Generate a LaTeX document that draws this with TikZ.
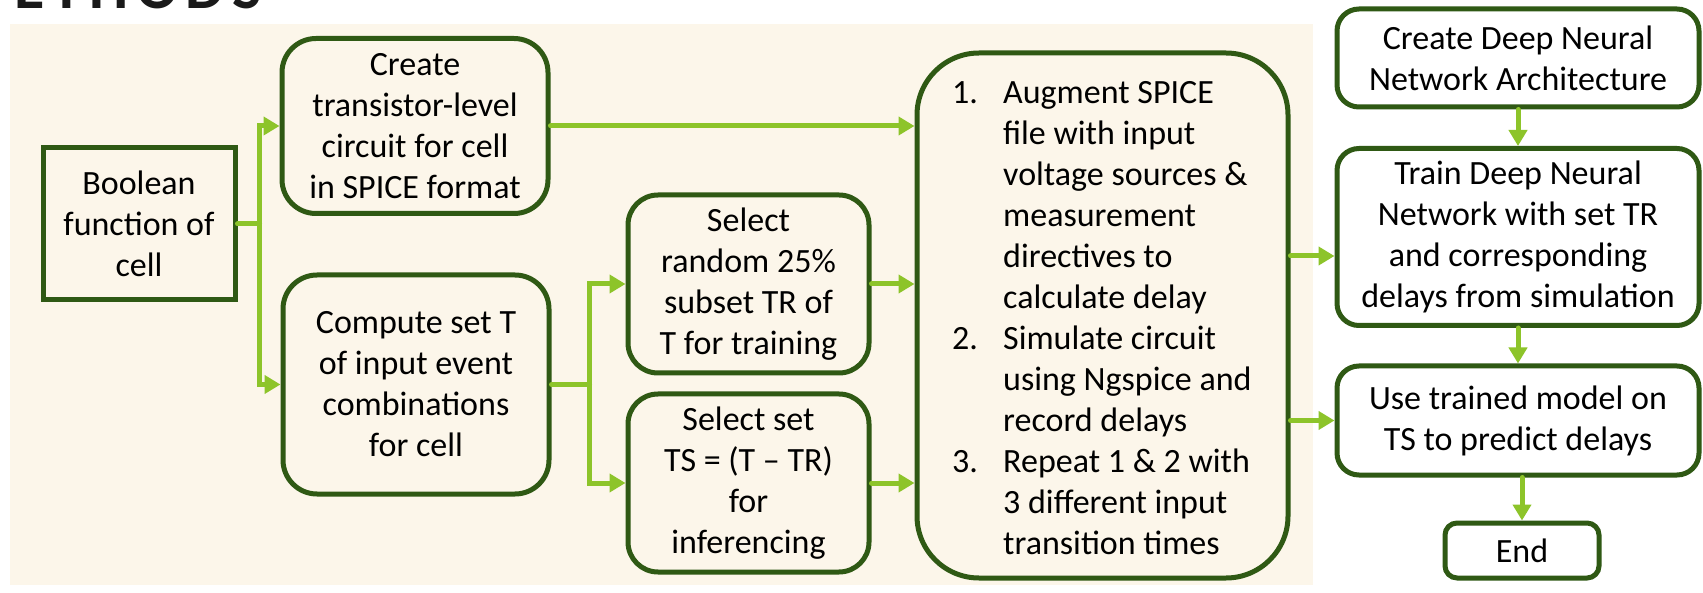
\documentclass[tikz,border=0pt]{standalone}
\usepackage{fontspec}
\setmainfont{Carlito}
\usetikzlibrary{arrows.meta}
\definecolor{panel}{HTML}{FCF6EA}
\definecolor{boxline}{HTML}{2F5914}
\definecolor{flow}{HTML}{8DC42A}
\definecolor{heading}{HTML}{1A1A1A}
\begin{document}
\begin{tikzpicture}[x=1pt,y=-1pt,
  box/.style={draw=boxline, line width=5pt, align=center, inner sep=0pt,
    font=\fontsize{34}{41}\selectfont, text=black},
  link/.style={draw=flow, line width=5pt, line cap=round},
  arr/.style={link, -{Triangle[length=16pt,width=18pt]}},
]
% page and cream panel
\fill[white] (0,0) rectangle (1703,593);
\useasboundingbox (0,0) rectangle (1703,593);
\fill[panel] (10,24) rectangle (1313,585);

% heading, cut by the top edge of the page
\node[anchor=base east, inner sep=0pt, text=heading,
  font=\fontsize{62}{62}\selectfont\bfseries\addfontfeature{LetterSpace=12}]
  (title) at (262,9) {ETHODS};

% left part of the flow
\node[box, minimum width=192pt, minimum height=152pt] (bool) at (139,224)
  {Boolean\\function of\\cell};
\node[box, rounded corners=34pt, minimum width=266pt, minimum height=175pt] (create) at (415,126)
  {Create\\transistor-level\\circuit for cell\\in SPICE format};
\node[box, rounded corners=34pt, minimum width=266pt, minimum height=219pt] (compute) at (416,384.5)
  {Compute set T\\of input event\\combinations\\for cell};
\node[box, rounded corners=30pt, minimum width=241pt, minimum height=178pt] (selR) at (748.5,284)
  {Select\\random 25\%\\subset TR of\\T for training};
\node[box, rounded corners=30pt, minimum width=241pt, minimum height=178pt] (selS) at (748.5,483)
  {Select set\\TS = (T -- TR)\\for\\inferencing};

% simulation steps
\node[box, rounded corners=62pt, minimum width=371pt, minimum height=525pt] (big) at (1102.5,315.5) {};
\node[anchor=base west, inner sep=0pt, font=\fontsize{34}{41}\selectfont] (steps) at (952,104)
  {\begin{tabular}[t]{@{}l@{}l@{}}
   \makebox[51pt][l]{1.} & Augment SPICE\\
   & file with input\\
   & voltage sources \&\\
   & measurement\\
   & directives to\\
   & calculate delay\\
   \makebox[51pt][l]{2.} & Simulate circuit\\
   & using Ngspice and\\
   & record delays\\
   \makebox[51pt][l]{3.} & Repeat 1 \& 2 with\\
   & 3 different input\\
   & transition times
   \end{tabular}};

% right column
\node[box, rounded corners=22pt, minimum width=362pt, minimum height=98pt] (cdnn) at (1518,58)
  {Create Deep Neural\\Network Architecture};
\node[box, rounded corners=22pt, minimum width=362pt, minimum height=177pt] (train) at (1518,237)
  {Train Deep Neural\\Network with set TR\\and corresponding\\delays from simulation};
\node[box, rounded corners=22pt, minimum width=362pt, minimum height=109pt] (use) at (1518,420.5)
  {Use trained model on\\TS to predict delays};
\node[box, rounded corners=12pt, minimum width=154pt, minimum height=55pt] (end) at (1522,550.5)
  {End};

% connectors
\coordinate (j1) at ([xshift=22pt]bool.east);
\coordinate (j2) at ([xshift=38pt]compute.east);
\draw[link] (bool.east) -- (j1);
\draw[arr] (j1) |- (create.west);
\draw[arr] (j1) |- (compute.west);
\draw[link] (compute.east) -- (j2);
\draw[arr] (j2) |- (selR.west);
\draw[arr] (j2) |- (selS.west);
\draw[arr] (create.east) -- (create.east -| big.west);
\draw[arr] (selR.east) -- (selR.east -| big.west);
\draw[arr] (selS.east) -- (selS.east -| big.west);
\draw[arr] ([yshift=-19pt]train.west -| big.east) -- ([yshift=-19pt]train.west);
\draw[arr] (use.west -| big.east) -- (use.west);
\draw[arr] (cdnn.south) -- (train.north);
\draw[arr] (train.south) -- (use.north);
\draw[arr] (use.south -| end.north) -- (end.north);
\end{tikzpicture}
\end{document}
